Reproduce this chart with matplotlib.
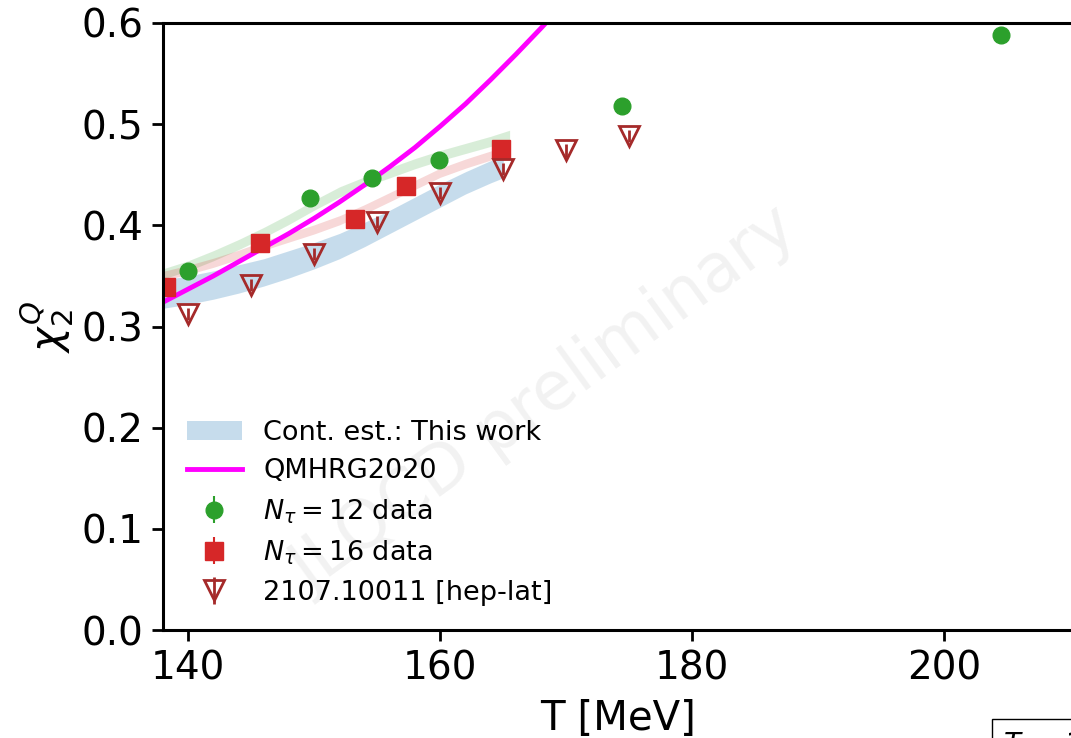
import matplotlib
matplotlib.use('Agg')
import matplotlib.pyplot as plt
import numpy as np

# Continuum estimate band (this work)
band_T = [138, 140, 142, 144, 146, 148, 150, 152, 154, 156, 158, 160, 162, 164, 165]
band_lo = [0.318, 0.322, 0.327, 0.333, 0.340, 0.348, 0.357, 0.367, 0.379, 0.392, 0.405, 0.418, 0.431, 0.442, 0.447]
band_hi = [0.346, 0.350, 0.355, 0.361, 0.367, 0.375, 0.383, 0.392, 0.403, 0.415, 0.428, 0.441, 0.453, 0.464, 0.469]

# Nt=12 / Nt=16 interpolation bands (centre values)
g_band_T = [138, 140, 142, 144, 146, 148, 150, 152, 154, 156, 158, 160, 162, 164, 165.5]
g_band_c = [0.352, 0.360, 0.370, 0.381, 0.393, 0.406, 0.420, 0.433, 0.443, 0.452, 0.461, 0.469, 0.476, 0.483, 0.489]
r_band_T = [138, 140, 142, 144, 146, 148, 150, 152, 154, 156, 158, 160, 162, 164, 165.2]
r_band_c = [0.350, 0.356, 0.363, 0.371, 0.380, 0.388, 0.396, 0.405, 0.416, 0.428, 0.440, 0.452, 0.461, 0.469, 0.473]

# QMHRG2020
hrg_T = [138, 140, 142, 144, 146, 148, 150, 152, 154, 156, 158, 160, 162, 164, 166, 168, 170]
hrg_y = [0.324, 0.337, 0.350, 0.364, 0.378, 0.392, 0.407, 0.423, 0.440, 0.458, 0.477, 0.498,
         0.520, 0.544, 0.569, 0.595, 0.622]

# lattice data
nt12_T = [140, 149.7, 154.6, 159.9, 174.4, 204.5]
nt12_y = [0.355, 0.427, 0.447, 0.465, 0.518, 0.588]
nt12_err = [0.003, 0.003, 0.003, 0.003, 0.003, 0.003]

nt16_T = [138.25, 145.7, 153.25, 157.3, 164.8]
nt16_y = [0.339, 0.383, 0.406, 0.439, 0.475]
nt16_err = [0.003, 0.003, 0.003, 0.003, 0.003]

old_T = [140, 145, 150, 155, 160, 165, 170, 175]
old_y = [0.312, 0.341, 0.372, 0.403, 0.432, 0.456, 0.474, 0.488]
old_err = [0.006, 0.006, 0.006, 0.006, 0.006, 0.006, 0.006, 0.006]

fig = plt.figure(figsize=(10.71, 7.38), dpi=100)
ax = fig.add_axes([163/1071, 108/738, 910/1071, 607/738])

ax.fill_between(g_band_T, np.array(g_band_c) - 0.005, np.array(g_band_c) + 0.005,
                color='tab:green', alpha=0.18, lw=0)
ax.fill_between(r_band_T, np.array(r_band_c) - 0.0045, np.array(r_band_c) + 0.0045,
                color='tab:red', alpha=0.18, lw=0)
ax.fill_between(band_T, band_lo, band_hi, color='tab:blue', alpha=0.25, lw=0,
                label='Cont. est.: This work')
ax.plot(hrg_T, hrg_y, color='magenta', lw=3.5, label='QMHRG2020')

ax.errorbar(nt12_T, nt12_y, yerr=nt12_err, fmt='o', color='tab:green', ms=12,
            label=r'$N_\tau = 12$ data')
ax.errorbar(nt16_T, nt16_y, yerr=nt16_err, fmt='s', color='tab:red', ms=13,
            label=r'$N_\tau = 16$ data')
ax.errorbar(old_T, old_y, yerr=old_err, fmt='v', color='brown', ms=14, mfc='none',
            mew=2, elinewidth=2, label='2107.10011 [hep-lat]')

ax.text(168.3, 0.227, 'JLQCD preliminary', rotation=36, fontsize=48, color='gray',
        alpha=0.1, ha='center', va='center')

ax.set_xlim(138, 210.2)
ax.set_ylim(0, 0.6)
ax.set_xticks([140, 160, 180, 200])
ax.set_yticks([0.0, 0.1, 0.2, 0.3, 0.4, 0.5, 0.6])
ax.tick_params(labelsize=28, length=8, width=2, pad=6)
for s in ax.spines.values():
    s.set_linewidth(2.2)
ax.set_xlabel('T [MeV]', fontsize=29, labelpad=8)
ax.set_ylabel(r'$\chi_2^Q$', fontsize=30, labelpad=4)

ax.legend(loc='lower left', fontsize=19.5, frameon=False, labelspacing=0.47)

fig.text(1003/1071, 8/738, r'$T_c = 156.5$ MeV', fontsize=20, va='top', ha='left',
         bbox=dict(boxstyle='square,pad=0.4', fc='white', ec='black', lw=1))

fig.savefig('out.png', dpi=100)
